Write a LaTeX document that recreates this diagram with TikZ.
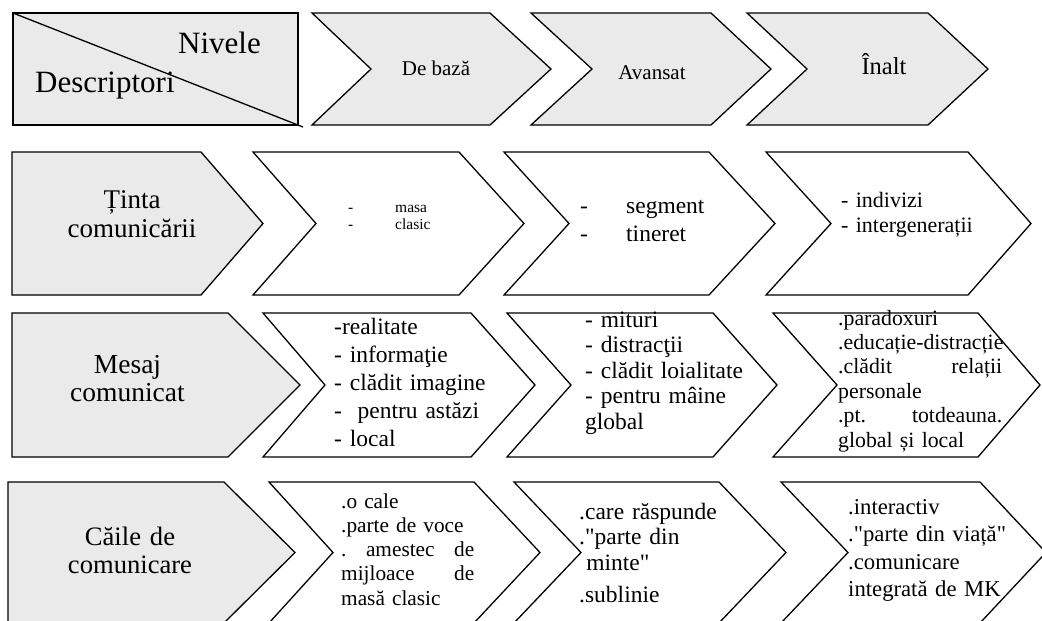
\documentclass[tikz,border=0pt]{standalone}
\usepackage{fontspec}
\setmainfont{Liberation Serif}
\newfontfamily\qfont{Liberation Serif}[Ligatures=TeXOff]
\definecolor{boxgrey}{RGB}{234,234,234}
\newcommand{\mychev}[7]{\draw[#7] (#1,#5) -- (#3,#5) -- (#4,{(#5+#6)/2}) -- (#3,#6) -- (#1,#6) -- (#2,{(#5+#6)/2}) -- cycle;}
\newcommand{\mypent}[6]{\draw[#6] (#1,#4) -- (#2,#4) -- (#3,{(#4+#5)/2}) -- (#2,#5) -- (#1,#5) -- cycle;}
\newcommand{\jline}[2]{\makebox[#1][l]{#2}}
\newcommand{\dq}{{\qfont\symbol{34}}}
\tikzset{
  shp/.style={draw=black, line width=1.3pt, line join=miter},
  gbox/.style={shp, fill=boxgrey},
  wbox/.style={shp, fill=white},
  txt/.style={inner sep=0pt, anchor=base west, align=left, text width=220pt},
  lbl/.style={inner sep=0pt, anchor=base, align=center, text width=220pt},
  cen/.style={inner sep=0pt, anchor=base},
}
\begin{document}
\begin{tikzpicture}[x=1pt,y=-1pt]
\clip (0,0) rectangle (1042,621);
\fill[white] (0,0) rectangle (1042,621);
% ---------- row 1 ----------
\draw[gbox] (13,13) rectangle (298,125);
\coordinate (dtl) at (13,13);
\coordinate (dbr) at (303,127);
\draw[shp] (dtl) -- (dbr);
\mychev{312}{371}{490}{551}{13}{125}{gbox}
\mychev{531}{592}{711}{771}{13}{125}{gbox}
\mychev{747}{807}{928}{988}{13}{125}{gbox}
\node[cen, anchor=base west, font=\fontsize{31}{36}\selectfont] (niv) at (178,53) {Nivele};
\node[cen, anchor=base west, font=\fontsize{31}{36}\selectfont] (desc) at (35,92) {Descriptori};
\node[cen, font=\fontsize{21}{24}\selectfont] (lvA) at (436,75) {De bază};
\node[cen, font=\fontsize{21}{24}\selectfont] (lvB) at (652,79) {Avansat};
\node[cen, font=\fontsize{24.5}{28}\selectfont] (lvC) at (884,74) {Înalt};
% ---------- row 2 ----------
\mypent{12}{201}{263}{152}{295}{gbox}
\mychev{253}{316}{459}{524}{152}{295}{wbox}
\mychev{504}{569}{709}{775}{152}{295}{wbox}
\mychev{766}{831}{968}{1031}{152}{295}{wbox}
\node[lbl, font=\fontsize{27}{29}\selectfont] (tinta) at (132,208) {Ținta\\comunicării};
\node[txt, font=\fontsize{15.5}{17}\selectfont] (tA) at (348,212) {\makebox[47pt][l]{-}masa\\\makebox[47pt][l]{-}clasic};
\node[txt, font=\fontsize{23.5}{28}\selectfont] (tB) at (580,213) {\makebox[46pt][l]{-}segment\\\makebox[46pt][l]{-}tineret};
\node[txt, font=\fontsize{22}{25}\selectfont] (tC) at (841,207) {- indivizi\\- intergenerații};
% ---------- row 3 ----------
\mypent{12}{228}{300}{313}{457}{gbox}
\mychev{263}{325}{471}{535}{313}{457}{wbox}
\mychev{507}{571}{713}{777}{313}{457}{wbox}
\mychev{773}{837}{978}{1040}{313}{457}{wbox}
\node[lbl, font=\fontsize{27.5}{28}\selectfont] (mesaj) at (127.5,373) {Mesaj\\comunicat};
\node[txt, font=\fontsize{23.5}{28}\selectfont] (mA) at (334,334) {-realitate\\- informaţie\\- clădit imagine\\-~~pentru astăzi\\- local};
\node[txt, font=\fontsize{23.5}{25.5}\selectfont] (mB) at (585,327) {- mituri\\- distracţii\\- clădit loialitate\\- pentru mâine\\global};
\node[txt, font=\fontsize{21.8}{24.4}\selectfont] (mC) at (838,325) {.paradoxuri\\\mbox{.educație-distracție}\\\jline{164pt}{.clădit\hfill relații}\\personale\\\jline{164pt}{.pt.\hfill totdeauna.}\\global și local};
% ---------- row 4 ----------
\mypent{8}{224}{295}{482}{623}{gbox}
\mychev{269}{333}{474}{540}{482}{623}{wbox}
\mychev{514}{581}{719}{786}{482}{623}{wbox}
\mychev{781}{848}{980}{1046}{482}{623}{wbox}
\node[lbl, font=\fontsize{26.6}{28}\selectfont] (cai) at (130,545) {Căile de\\comunicare};
\node[txt, font=\fontsize{21.3}{24.3}\selectfont] (cA) at (341,508) {.o cale\\.parte de voce\\\jline{133pt}{.\hfill amestec\hfill de}\\\jline{133pt}{mijloace\hfill de}\\masă clasic};
\node[txt, font=\fontsize{23.5}{25.5}\selectfont] (cB) at (579,519) {.care răspunde\\.\dq parte din\\\hspace*{0.3em}minte\dq\\[7pt].sublinie};
\node[txt, font=\fontsize{22.7}{27.6}\selectfont] (cC) at (848,514) {.interactiv\\.\dq parte din viață\dq\\.comunicare\\integrată de MK};
\end{tikzpicture}
\end{document}
